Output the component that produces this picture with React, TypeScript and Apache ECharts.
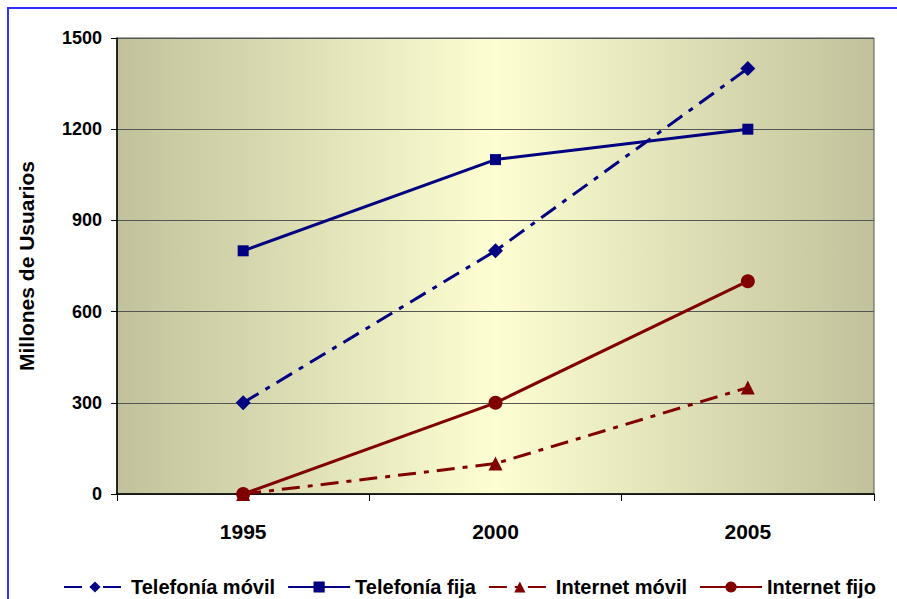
import React, { useEffect, useRef } from "react";
import * as echarts from "echarts";

const categories = ["1995", "2000", "2005"];
const yTicks = [0, 300, 600, 900, 1200, 1500];
const telefoniaMovil = [300, 800, 1400];
const telefoniaFija = [800, 1100, 1200];
const internetMovil = [0, 100, 350];
const internetFijo = [0, 300, 700];

const NAVY = "#000080";
const MAROON = "#800000";
const DASHDOT = [18, 8, 5, 8];
const FONT = "Liberation Sans, Arial, sans-serif";

export default function App() {
  const ref = useRef<HTMLDivElement>(null);
  useEffect(() => {
    const chart = echarts.init(ref.current!, undefined, { renderer: "svg" });
    const mk = (name: string, data: number[], color: string, symbol: string, dashed: boolean, size: number) => ({
      name,
      type: "line",
      data,
      symbol,
      symbolSize: size,
      itemStyle: { color },
      lineStyle: { color, width: 3, type: dashed ? DASHDOT : "solid" },
      z: 5,
    });
    chart.setOption({
      animation: false,
      backgroundColor: "#ffffff",
      textStyle: { fontFamily: FONT },
      grid: {
        left: 117,
        right: 23,
        top: 38,
        bottom: 105,
        show: true,
        borderColor: "#555555",
        borderWidth: 1,
        backgroundColor: {
          type: "linear",
          x: 0, y: 0, x2: 1, y2: 0,
          colorStops: [
            { offset: 0, color: "#c1c19b" },
            { offset: 0.5, color: "#fefed2" },
            { offset: 1, color: "#c1c19b" },
          ],
        },
      },
      graphic: [
        {
          type: "rect",
          shape: { x: 8, y: 8, width: 920, height: 620 },
          style: { fill: "none", stroke: "#2f2fff", lineWidth: 2 },
          silent: true,
        },
      ],
      legend: {
        top: 572,
        left: 58,
        itemWidth: 62,
        itemHeight: 14,
        itemGap: 12,
        textStyle: { fontFamily: FONT, fontWeight: "bold", fontSize: 20, color: "#000" },
        data: ["Telefonía móvil", "Telefonía fija", "Internet móvil", "Internet fijo"],
      },
      xAxis: {
        type: "category",
        data: categories,
        boundaryGap: true,
        axisLine: { lineStyle: { color: "#000", width: 1.5 } },
        axisTick: { show: true, length: 7, lineStyle: { color: "#000" } },
        axisLabel: { margin: 27, fontFamily: FONT, fontWeight: "bold", fontSize: 21, color: "#000" },
      },
      yAxis: {
        type: "value",
        min: yTicks[0],
        max: yTicks[yTicks.length - 1],
        interval: yTicks[1] - yTicks[0],
        name: "Millones de Usuarios",
        nameLocation: "middle",
        nameGap: 80,
        nameTextStyle: { fontFamily: FONT, fontWeight: "bold", fontSize: 21, color: "#000" },
        axisLine: { show: true, lineStyle: { color: "#000", width: 1.5 } },
        axisTick: { show: true, length: 6, lineStyle: { color: "#000" } },
        axisLabel: {
          margin: 15,
          fontFamily: FONT,
          fontWeight: "bold",
          fontSize: 18,
          color: "#000",
          formatter: (v: number) => String(v),
        },
        splitLine: { show: true, lineStyle: { color: "#555555", width: 1.2 } },
      },
      series: [
        mk("Telefonía móvil", telefoniaMovil, NAVY, "diamond", true, 15),
        mk("Telefonía fija", telefoniaFija, NAVY, "rect", false, 11),
        mk("Internet móvil", internetMovil, MAROON, "triangle", true, 14),
        mk("Internet fijo", internetFijo, MAROON, "circle", false, 14),
      ],
    });
    return () => chart.dispose();
  }, []);
  return <div ref={ref} style={{ position: "fixed", left: 0, top: 0, width: 897, height: 599 }} />;
}
